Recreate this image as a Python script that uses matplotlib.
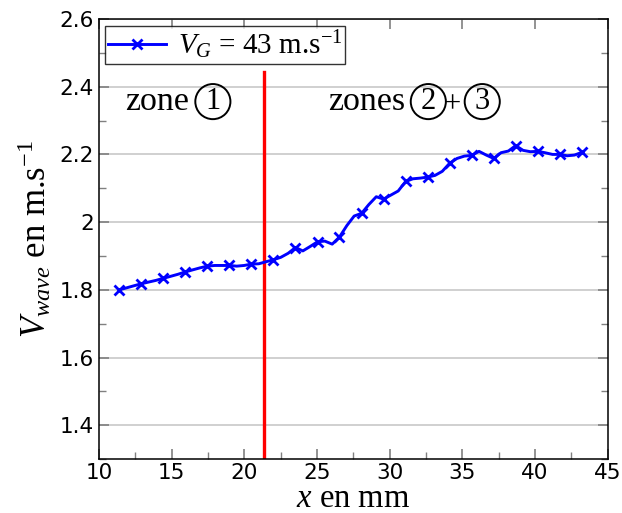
import matplotlib
matplotlib.use("Agg")
import matplotlib.pyplot as plt
from matplotlib.ticker import MultipleLocator, FuncFormatter

# ---- data ----
x_mm = [11.40, 11.91, 12.41, 12.92, 13.42, 13.93, 14.43, 14.94, 15.44, 15.95,
        16.45, 16.96, 17.46, 17.97, 18.47, 18.98, 19.48, 19.99, 20.49, 21.00,
        21.50, 22.01, 22.51, 23.02, 23.52, 24.03, 24.53, 25.04, 25.54, 26.05,
        26.55, 27.06, 27.56, 28.07, 28.57, 29.08, 29.58, 30.09, 30.59, 31.10,
        31.60, 32.11, 32.61, 33.12, 33.62, 34.13, 34.63, 35.14, 35.64, 36.15,
        36.65, 37.16, 37.66, 38.17, 38.67, 39.18, 39.68, 40.19, 40.69, 41.20,
        41.70, 42.21, 42.71, 43.22]
v_wave = [1.800, 1.806, 1.812, 1.818, 1.823, 1.828, 1.834, 1.840, 1.846, 1.853,
          1.859, 1.865, 1.870, 1.872, 1.872, 1.872, 1.870, 1.872, 1.876, 1.877,
          1.883, 1.889, 1.896, 1.908, 1.925, 1.915, 1.928, 1.942, 1.944, 1.935,
          1.956, 1.990, 2.018, 2.026, 2.052, 2.075, 2.068, 2.080, 2.092, 2.120,
          2.128, 2.130, 2.133, 2.138, 2.150, 2.174, 2.188, 2.195, 2.197, 2.209,
          2.198, 2.188, 2.205, 2.210, 2.226, 2.212, 2.208, 2.209, 2.205, 2.200,
          2.200, 2.196, 2.198, 2.206]
marker_every = 3
zone_boundary_x = 21.35
zone_boundary_top = 2.443
legend_label = r"$V_G$ = 43 m.s$^{\mathrm{-1}}$"
x_ticks = [10, 15, 20, 25, 30, 35, 40, 45]
y_ticks = [1.4, 1.6, 1.8, 2.0, 2.2, 2.4, 2.6]

plt.rcParams["mathtext.fontset"] = "custom"
plt.rcParams["mathtext.rm"] = "Liberation Serif"
plt.rcParams["mathtext.it"] = "Liberation Serif:italic"

fig = plt.figure(figsize=(6.22, 5.13), dpi=100)
ax = fig.add_axes([0.159, 0.105, 0.818, 0.858])

ax.plot(x_mm, v_wave, color="#0000ff", lw=2.1, marker="x", ms=6.5, mew=2,
        markevery=marker_every, label=legend_label)
ax.plot([zone_boundary_x, zone_boundary_x], [1.3, zone_boundary_top],
        color="#ff0000", lw=2.4, zorder=1)

ax.set_xlim(10, 45)
ax.set_ylim(1.3, 2.6)
ax.set_xticks(x_ticks)
ax.set_yticks(y_ticks)
ax.xaxis.set_minor_locator(MultipleLocator(2.5))
ax.yaxis.set_minor_locator(MultipleLocator(0.1))
ax.yaxis.set_major_formatter(FuncFormatter(lambda v, p: "%g" % round(v, 2)))
ax.grid(axis="y", which="major", color="#c8c8c8", lw=1.2, zorder=0)
ax.set_axisbelow(True)

ax.tick_params(which="both", direction="in", color="#808080",
               labelsize=15.5, left=True, right=True, bottom=True, top=False)
ax.tick_params(axis="x", which="major", pad=3)
ax.tick_params(which="major", length=7, width=1.2, top=True)
ax.tick_params(which="minor", length=5, width=1)
for s in ax.spines.values():
    s.set_linewidth(1.1)

ax.set_xlabel(r"$x$ en mm", family="Liberation Serif", fontsize=23.5, labelpad=0)
ax.set_ylabel(r"$V_{wave}$ en m.s$^{\mathrm{-1}}$", family="Liberation Serif",
              fontsize=25, labelpad=4)

leg = ax.legend(loc="upper left", bbox_to_anchor=(0.012, 0.985),
                prop={"family": "Liberation Serif", "size": 21},
                frameon=True, fancybox=False, handlelength=2.0,
                borderpad=0.1, handletextpad=0.4, borderaxespad=0.0)
leg.get_frame().set_edgecolor("black")
leg.get_frame().set_linewidth(1.0)

tfont = dict(family="Liberation Serif", fontsize=24.5, va="baseline")
ax.text(11.8, 2.33, "zone", ha="left", **tfont)
ax.text(25.75, 2.33, "zones", ha="left", **tfont)
ax.text(34.28, 2.325, "+", ha="center", family="Liberation Serif", fontsize=22,
        va="baseline")
circ = dict(boxstyle="circle,pad=0.1", fc="none", ec="black", lw=1.4)
for cx, lab in [(17.84, "1"), (32.66, "2"), (36.37, "3")]:
    ax.text(cx, 2.356, lab, ha="center", va="center", family="Liberation Serif",
            fontsize=22, bbox=circ)

fig.savefig("out.png", dpi=100)
